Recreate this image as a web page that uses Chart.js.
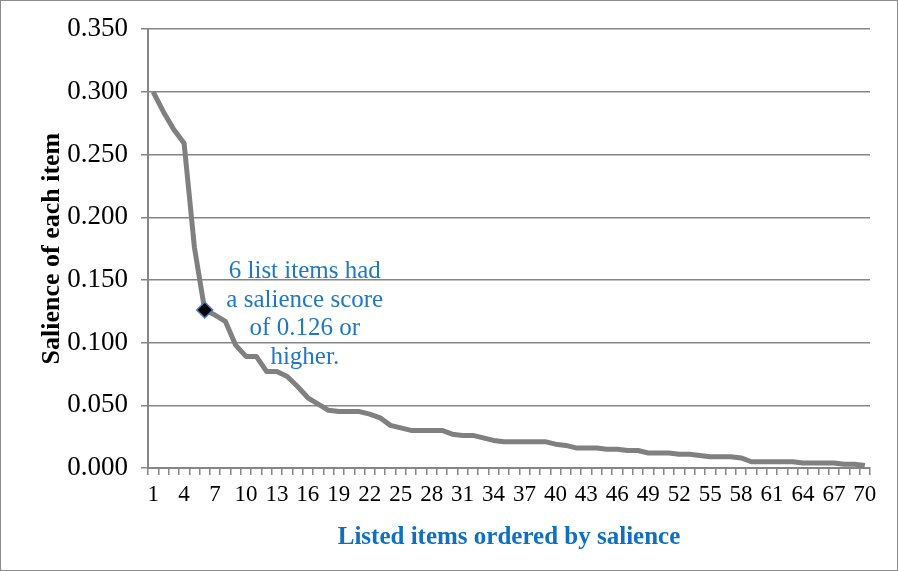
<!DOCTYPE html>
<html>
<head>
<meta charset="utf-8">
<script src="https://cdn.jsdelivr.net/npm/chart.js@4"></script>
<style>
  html, body { margin: 0; padding: 0; background: #fff; }
  #wrap { position: relative; width: 898px; height: 571px; }
</style>
</head>
<body>
<div id="wrap"><canvas id="canvas" width="898" height="571"></canvas></div>
<script>
// salience values for the 70 listed items, in rank order
const salience = [
  0.300, 0.284, 0.270, 0.259, 0.176, 0.126, 0.122, 0.117, 0.098, 0.089,
  0.089, 0.077, 0.077, 0.073, 0.065, 0.056, 0.051, 0.046, 0.045, 0.045,
  0.045, 0.043, 0.040, 0.034, 0.032, 0.030, 0.030, 0.030, 0.030, 0.027,
  0.026, 0.026, 0.024, 0.022, 0.021, 0.021, 0.021, 0.021, 0.021, 0.019,
  0.018, 0.016, 0.016, 0.016, 0.015, 0.015, 0.014, 0.014, 0.012, 0.012,
  0.012, 0.011, 0.011, 0.010, 0.009, 0.009, 0.009, 0.008, 0.005, 0.005,
  0.005, 0.005, 0.005, 0.004, 0.004, 0.004, 0.004, 0.003, 0.003, 0.002
];
const item_ranks = salience.map((v, i) => String(i + 1));
const highlight_index = 5;   // 6th item, salience 0.126
const note_lines = ['6 list items had', 'a salience score', 'of 0.126 or', 'higher.'];
const note_anchor = {x: 14.7, y: 0.1565};   // category index / value of the first line

const serif = '"Liberation Serif", "Times New Roman", serif';
const axis_grey = '#868686';
const note_blue = '#1f78c1';

const frame_and_note = {
  id: 'frame_and_note',
  afterDraw(chart) {
    const c = chart.ctx;
    const xs = chart.scales.x;
    const ys = chart.scales.y;
    c.save();
    c.font = '25px ' + serif;
    c.fillStyle = note_blue;
    c.textAlign = 'center';
    c.textBaseline = 'middle';
    const cx = xs.getPixelForValue(note_anchor.x);
    let cy = ys.getPixelForValue(note_anchor.y);
    for (const line of note_lines) {
      c.fillText(line, cx, cy);
      cy += 28.5;
    }
    c.strokeStyle = '#8c8c8c';
    c.lineWidth = 1;
    c.strokeRect(0.5, 0.5, chart.width - 1, chart.height - 1);
    c.restore();
  }
};

const ctx = document.getElementById('canvas').getContext('2d');
const salience_chart = new Chart(ctx, {
  type: 'line',
  data: {
    labels: item_ranks,
    datasets: [{
      data: salience,
      borderColor: '#808080',
      borderWidth: 5,
      borderJoinStyle: 'round',
      tension: 0,
      pointStyle: 'rectRot',
      pointRadius: c => c.dataIndex === highlight_index ? 8 : 0,
      pointBackgroundColor: '#000000',
      pointBorderColor: '#4a7ebb',
      pointBorderWidth: 1.5,
      pointHoverRadius: 0
    }]
  },
  options: {
    responsive: false,
    animation: false,
    events: [],
    layout: {padding: {left: 37, right: 28, top: 29, bottom: 18}},
    plugins: {legend: {display: false}, tooltip: {enabled: false}},
    scales: {
      x: {
        offset: true,
        grid: {
          offset: true,
          drawOnChartArea: false,
          drawTicks: true,
          tickLength: 7,
          color: axis_grey,
          lineWidth: 1.5
        },
        border: {color: axis_grey, width: 2},
        ticks: {
          autoSkip: false,
          maxRotation: 0,
          padding: 6,
          color: '#000',
          font: {family: serif, size: 23},
          callback: (v, i) => i % 3 === 0 ? item_ranks[i] : ''
        },
        title: {
          display: true,
          text: 'Listed items ordered by salience',
          color: '#0e70c0',
          font: {family: serif, size: 25, weight: 'bold'},
          padding: {top: 4, bottom: 0}
        },
        afterFit: s => { s.height = 571 - 468 - 18; }
      },
      y: {
        min: 0,
        max: 0.35,
        grid: {color: axis_grey, lineWidth: 1.5, tickLength: 7},
        border: {color: axis_grey, width: 2},
        ticks: {
          stepSize: 0.05,
          padding: 13,
          color: '#000',
          font: {family: serif, size: 27},
          callback: v => v.toFixed(3)
        },
        title: {
          display: true,
          text: 'Salience of each item',
          color: '#000',
          font: {family: serif, size: 26, weight: 'bold'},
          padding: {top: 0, bottom: 0}
        },
        afterFit: s => { s.width = 148 - 37; }
      }
    }
  },
  plugins: [frame_and_note]
});
</script>
</body>
</html>
